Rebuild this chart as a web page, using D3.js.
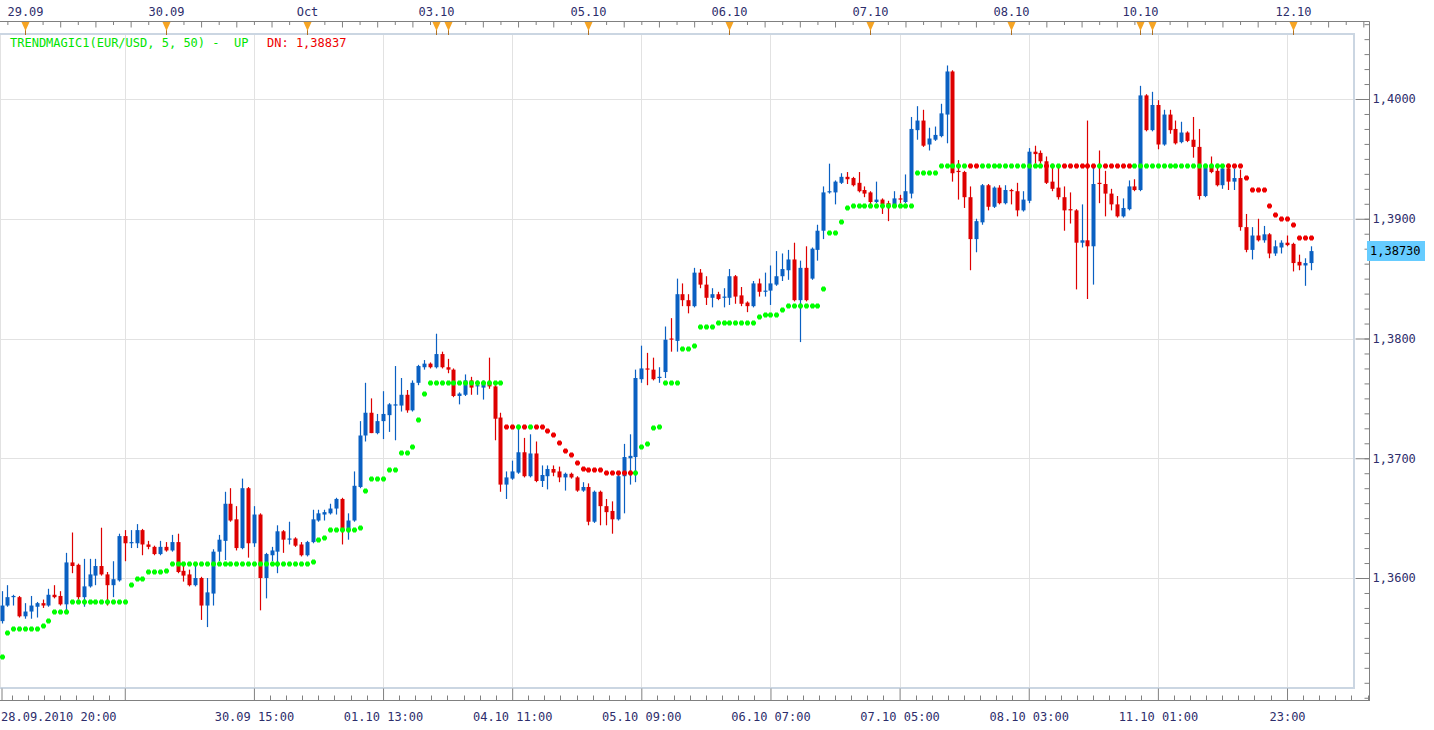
<!DOCTYPE html>
<html>
<head>
<meta charset="utf-8">
<script src="https://cdn.jsdelivr.net/npm/d3@7"></script>
<style>
  body { margin: 0; background: #fff; }
  svg { display: block; }
  text { font-family: "DejaVu Sans Mono", monospace; font-size: 12px; }
</style>
</head>
<body>
<svg id="chart" width="1434" height="730"></svg>
<script>
// hourly EUR/USD bars, 28.09.2010 20:00 .. 12.10.2010
var opens = [
  1.3564,1.3577,1.3584,1.3584,1.3568,1.3572,1.3576,1.3579,1.3577,1.3586,
  1.3585,1.3578,1.3613,1.3611,1.3584,1.3593,1.3602,1.3610,1.3603,1.3594,
  1.3598,1.3635,1.3629,1.3629,1.3640,1.3628,1.3626,1.3620,1.3626,1.3623,
  1.3630,1.3606,1.3603,1.3594,1.3600,1.3577,1.3587,1.3622,1.3631,1.3662,
  1.3649,1.3625,1.3675,1.3629,1.3653,1.3600,1.3619,1.3622,1.3639,1.3632,
  1.3633,1.3628,1.3619,1.3630,1.3648,1.3653,1.3654,1.3658,1.3666,1.3640,
  1.3648,1.3676,1.3719,1.3738,1.3721,1.3731,1.3736,1.3744,1.3744,1.3753,
  1.3740,1.3763,1.3776,1.3779,1.3776,1.3787,1.3776,1.3774,1.3752,1.3753,
  1.3765,1.3760,1.3759,1.3762,1.3760,1.3734,1.3678,1.3683,1.3688,1.3705,
  1.3685,1.3704,1.3681,1.3685,1.3691,1.3689,1.3684,1.3687,1.3684,1.3673,
  1.3676,1.3647,1.3672,1.3660,1.3656,1.3649,1.3685,1.3700,1.3701,1.3766,
  1.3775,1.3774,1.3767,1.3772,1.3800,1.3798,1.3837,1.3832,1.3827,1.3855,
  1.3845,1.3834,1.3837,1.3834,1.3834,1.3852,1.3836,1.3830,1.3827,1.3846,
  1.3839,1.3840,1.3845,1.3852,1.3857,1.3866,1.3832,1.3859,1.3850,1.3874,
  1.3890,1.3922,1.3922,1.3930,1.3935,1.3934,1.3930,1.3924,1.3922,1.3914,
  1.3916,1.3913,1.3910,1.3917,1.3914,1.3921,1.3974,1.3982,1.3962,1.3966,
  1.3969,1.3987,1.4023,1.3940,1.3939,1.3918,1.3883,1.3897,1.3928,1.3910,
  1.3926,1.3913,1.3924,1.3923,1.3907,1.3915,1.3956,1.3955,1.3948,1.3931,
  1.3926,1.3918,1.3908,1.3907,1.3880,1.3882,1.3877,1.3930,1.3929,1.3921,
  1.3912,1.3902,1.3908,1.3927,1.3924,1.4003,1.3974,1.3995,1.3962,1.3987,
  1.3975,1.3964,1.3972,1.3966,1.3960,1.3919,1.3945,1.3940,1.3928,1.3942,
  1.3931,1.3934,1.3893,1.3874,1.3886,1.3882,1.3887,1.3871,1.3876,1.3880,
  1.3879,1.3864,1.3861,1.3863
];
var highs = [
  1.3589,1.3594,1.3586,1.3585,1.3579,1.3585,1.3580,1.3582,1.3591,1.3594,
  1.3589,1.3621,1.3638,1.3612,1.3616,1.3616,1.3616,1.3642,1.3605,1.3614,
  1.3637,1.3640,1.3640,1.3645,1.3641,1.3631,1.3627,1.3631,1.3630,1.3636,
  1.3637,1.3610,1.3607,1.3610,1.3601,1.3600,1.3624,1.3636,1.3672,1.3675,
  1.3660,1.3683,1.3676,1.3660,1.3654,1.3621,1.3626,1.3644,1.3640,1.3647,
  1.3634,1.3630,1.3631,1.3657,1.3657,1.3657,1.3662,1.3667,1.3667,1.3654,
  1.3689,1.3731,1.3763,1.3750,1.3737,1.3756,1.3746,1.3777,1.3767,1.3757,
  1.3765,1.3778,1.3782,1.3780,1.3804,1.3789,1.3783,1.3775,1.3755,1.3770,
  1.3768,1.3765,1.3765,1.3784,1.3761,1.3738,1.3689,1.3698,1.3728,1.3717,
  1.3720,1.3714,1.3694,1.3694,1.3694,1.3693,1.3688,1.3688,1.3685,1.3680,
  1.3679,1.3673,1.3673,1.3666,1.3664,1.3686,1.3712,1.3720,1.3774,1.3794,
  1.3788,1.3784,1.3776,1.3810,1.3817,1.3850,1.3846,1.3837,1.3859,1.3858,
  1.3852,1.3842,1.3839,1.3842,1.3858,1.3853,1.3843,1.3831,1.3848,1.3850,
  1.3855,1.3861,1.3873,1.3871,1.3874,1.3880,1.3865,1.3877,1.3876,1.3895,
  1.3927,1.3946,1.3932,1.3938,1.3939,1.3935,1.3939,1.3927,1.3923,1.3931,
  1.3917,1.3915,1.3923,1.3920,1.3937,1.3985,1.3994,1.3991,1.3976,1.3977,
  1.3996,1.4028,1.4024,1.3949,1.3940,1.3927,1.3900,1.3929,1.3929,1.3927,
  1.3928,1.3928,1.3925,1.3930,1.3923,1.3959,1.3961,1.3957,1.3952,1.3946,
  1.3943,1.3927,1.3922,1.3908,1.3912,1.3982,1.3943,1.3957,1.3940,1.3925,
  1.3919,1.3917,1.3932,1.3933,1.4011,1.4004,1.4006,1.3999,1.3991,1.3991,
  1.3982,1.3981,1.3973,1.3985,1.3975,1.3946,1.3952,1.3946,1.3945,1.3946,
  1.3942,1.3941,1.3904,1.3893,1.3900,1.3894,1.3888,1.3882,1.3882,1.3886,
  1.3880,1.3870,1.3867,1.3877
];
var lows = [
  1.3562,1.3576,1.3577,1.3567,1.3566,1.3566,1.3567,1.3575,1.3576,1.3583,
  1.3577,1.3573,1.3604,1.3582,1.3576,1.3592,1.3594,1.3602,1.3577,1.3584,
  1.3597,1.3614,1.3625,1.3625,1.3619,1.3624,1.3619,1.3619,1.3622,1.3622,
  1.3604,1.3597,1.3593,1.3593,1.3565,1.3559,1.3577,1.3614,1.3615,1.3647,
  1.3623,1.3624,1.3617,1.3626,1.3573,1.3583,1.3614,1.3604,1.3621,1.3628,
  1.3626,1.3618,1.3618,1.3629,1.3647,1.3648,1.3653,1.3653,1.3628,1.3632,
  1.3647,1.3675,1.3714,1.3721,1.3720,1.3716,1.3722,1.3715,1.3739,1.3738,
  1.3739,1.3761,1.3774,1.3775,1.3775,1.3775,1.3771,1.3751,1.3745,1.3752,
  1.3753,1.3753,1.3749,1.3758,1.3715,1.3672,1.3666,1.3682,1.3687,1.3684,
  1.3684,1.3680,1.3676,1.3674,1.3685,1.3680,1.3673,1.3683,1.3672,1.3672,
  1.3644,1.3646,1.3644,1.3644,1.3637,1.3648,1.3654,1.3678,1.3680,1.3763,
  1.3761,1.3765,1.3763,1.3767,1.3789,1.3789,1.3827,1.3821,1.3826,1.3842,
  1.3828,1.3826,1.3832,1.3826,1.3828,1.3829,1.3827,1.3822,1.3826,1.3835,
  1.3835,1.3828,1.3844,1.3848,1.3849,1.3831,1.3797,1.3831,1.3849,1.3865,
  1.3883,1.3921,1.3912,1.3929,1.3929,1.3927,1.3922,1.3918,1.3912,1.3913,
  1.3904,1.3898,1.3909,1.3913,1.3913,1.3917,1.3966,1.3960,1.3957,1.3965,
  1.3968,1.3963,1.3931,1.3916,1.3909,1.3857,1.3872,1.3895,1.3907,1.3909,
  1.3912,1.3912,1.3912,1.3902,1.3906,1.3913,1.3946,1.3946,1.3929,1.3923,
  1.3916,1.3890,1.3896,1.3841,1.3876,1.3833,1.3845,1.3913,1.3902,1.3907,
  1.3901,1.3901,1.3907,1.3923,1.3923,1.3973,1.3973,1.3958,1.3961,1.3971,
  1.3962,1.3963,1.3964,1.3951,1.3916,1.3918,1.3938,1.3927,1.3925,1.3924,
  1.3924,1.3890,1.3872,1.3866,1.3881,1.3880,1.3867,1.3869,1.3871,1.3877,
  1.3856,1.3857,1.3844,1.3857
];
var closes = [
  1.3577,1.3584,1.3585,1.3568,1.3572,1.3577,1.3579,1.3577,1.3586,1.3584,
  1.3578,1.3613,1.3610,1.3584,1.3593,1.3603,1.3610,1.3603,1.3594,1.3599,
  1.3635,1.3629,1.3630,1.3640,1.3628,1.3626,1.3620,1.3626,1.3623,1.3630,
  1.3605,1.3602,1.3594,1.3600,1.3577,1.3588,1.3622,1.3632,1.3662,1.3648,
  1.3625,1.3675,1.3629,1.3653,1.3600,1.3620,1.3623,1.3639,1.3632,1.3633,
  1.3627,1.3619,1.3630,1.3649,1.3654,1.3655,1.3658,1.3666,1.3640,1.3648,
  1.3677,1.3719,1.3738,1.3721,1.3731,1.3737,1.3745,1.3745,1.3753,1.3740,
  1.3763,1.3777,1.3779,1.3776,1.3787,1.3776,1.3774,1.3752,1.3754,1.3765,
  1.3759,1.3761,1.3762,1.3760,1.3733,1.3678,1.3684,1.3689,1.3705,1.3685,
  1.3704,1.3681,1.3686,1.3691,1.3688,1.3684,1.3687,1.3684,1.3673,1.3676,
  1.3647,1.3672,1.3660,1.3655,1.3649,1.3685,1.3701,1.3702,1.3767,1.3775,
  1.3774,1.3766,1.3768,1.3799,1.3799,1.3837,1.3832,1.3827,1.3855,1.3845,
  1.3834,1.3837,1.3833,1.3835,1.3852,1.3835,1.3829,1.3827,1.3846,1.3839,
  1.3840,1.3846,1.3852,1.3858,1.3866,1.3832,1.3859,1.3832,1.3875,1.3890,
  1.3922,1.3923,1.3931,1.3935,1.3933,1.3928,1.3923,1.3921,1.3914,1.3916,
  1.3912,1.3910,1.3917,1.3916,1.3923,1.3975,1.3982,1.3961,1.3967,1.3970,
  1.3988,1.4023,1.3938,1.3939,1.3918,1.3883,1.3898,1.3928,1.3910,1.3926,
  1.3913,1.3924,1.3923,1.3907,1.3916,1.3956,1.3954,1.3948,1.3930,1.3925,
  1.3918,1.3907,1.3907,1.3880,1.3882,1.3877,1.3929,1.3929,1.3921,1.3912,
  1.3902,1.3909,1.3927,1.3924,1.4003,1.3974,1.3995,1.3962,1.3987,1.3974,
  1.3963,1.3972,1.3965,1.3960,1.3919,1.3945,1.3939,1.3928,1.3942,1.3931,
  1.3934,1.3893,1.3874,1.3886,1.3882,1.3887,1.3871,1.3877,1.3880,1.3878,
  1.3863,1.3861,1.3863,1.3873
];
// Trend Magic line, one value per bar, U = up buffer (green), D = down buffer (red)
var trendMagic = [
  1.3534,1.3554,1.3557,1.3557,1.3557,1.3557,1.3557,1.3560,1.3564,1.3572,
  1.3572,1.3572,1.3580,1.3580,1.3580,1.3580,1.3580,1.3580,1.3580,1.3580,
  1.3580,1.3580,1.3594,1.3599,1.3599,1.3605,1.3605,1.3605,1.3606,1.3612,
  1.3612,1.3612,1.3612,1.3612,1.3612,1.3612,1.3612,1.3612,1.3612,1.3612,
  1.3612,1.3612,1.3612,1.3612,1.3612,1.3612,1.3612,1.3612,1.3612,1.3612,
  1.3612,1.3612,1.3612,1.3613,1.3632,1.3633,1.3640,1.3640,1.3640,1.3640,
  1.3640,1.3642,1.3673,1.3683,1.3683,1.3683,1.3690,1.3690,1.3704,1.3704,
  1.3709,1.3732,1.3754,1.3763,1.3763,1.3763,1.3763,1.3763,1.3763,1.3763,
  1.3763,1.3763,1.3763,1.3763,1.3763,1.3763,1.3726,1.3726,1.3726,1.3726,
  1.3726,1.3726,1.3726,1.3723,1.3719,1.3713,1.3706,1.3703,1.3696,1.3691,
  1.3690,1.3690,1.3690,1.3688,1.3688,1.3688,1.3688,1.3688,1.3688,1.3709,
  1.3712,1.3725,1.3726,1.3763,1.3763,1.3763,1.3791,1.3791,1.3794,1.3810,
  1.3810,1.3810,1.3813,1.3813,1.3813,1.3813,1.3813,1.3813,1.3813,1.3818,
  1.3820,1.3820,1.3820,1.3824,1.3827,1.3827,1.3827,1.3827,1.3827,1.3827,
  1.3841,1.3888,1.3888,1.3897,1.3909,1.3911,1.3911,1.3911,1.3911,1.3911,
  1.3911,1.3911,1.3911,1.3911,1.3911,1.3911,1.3938,1.3938,1.3938,1.3938,
  1.3944,1.3944,1.3944,1.3944,1.3944,1.3944,1.3944,1.3944,1.3944,1.3944,
  1.3944,1.3944,1.3944,1.3944,1.3944,1.3944,1.3944,1.3944,1.3944,1.3944,
  1.3944,1.3944,1.3944,1.3944,1.3944,1.3944,1.3944,1.3944,1.3944,1.3944,
  1.3944,1.3944,1.3944,1.3944,1.3944,1.3944,1.3944,1.3944,1.3944,1.3944,
  1.3944,1.3944,1.3944,1.3944,1.3944,1.3944,1.3944,1.3944,1.3944,1.3944,
  1.3944,1.3944,1.3934,1.3924,1.3924,1.3924,1.3911,1.3903,1.3900,1.3900,
  1.3895,1.38837,1.38837,1.38837
];
var trendSide = [
  "UUUUUUUUUU","UUUUUUUUUU","UUUUUUUUUU","UUUUUUUUUU","UUUUUUUUUU",
  "UUUUUUUUUU","UUUUUUUUUU","UUUUUUUUUU","UUUUUUDDUD","UDDDDDDDDD",
  "DDDDDDDDUU","UUUUUUUUUU","UUUUUUUUUU","UUUUUUUUUU","UUUUUUUUUU",
  "UUUUUUUUUU","UUUUUDDUUU","UUUUUUUUDU","UDDDDDDUDD","DDDUUUUUUU",
  "UUUUUUUUUD","DDDDDDDDDD","DDDD"
].join("");

// axis content
var priceTicks = [1.36, 1.37, 1.38, 1.39, 1.40];
var gridBars = [21, 43, 65, 87, 109, 131, 153, 175, 197, 219];
var gridLabels = ["", "30.09 15:00", "01.10 13:00", "04.10 11:00", "05.10 09:00",
                  "06.10 07:00", "07.10 05:00", "08.10 03:00", "11.10 01:00", "23:00"];
var firstLabel = "28.09.2010 20:00";
var dayBars = [4, 28, 52, 74, 76, 100, 124, 148, 172, 194, 196, 220];
var dayLabels = ["29.09", "30.09", "Oct", "03.10", "", "05.10", "06.10", "07.10", "08.10", "10.10", "", "12.10"];
var lastPrice = 1.3873;
var legendUp = "TRENDMAGIC1(EUR/USD, 5, 50) -  UP";
var legendDn = "DN: 1,38837";

var bars = opens.map(function(o, i) {
  return {i: i, open: o, high: highs[i], low: lows[i], close: closes[i], tm: trendMagic[i], side: trendSide[i]};
});

var svg = d3.select("#chart");
var frame = {left: 0, right: 1354, top: 34, bottom: 688};
var axisX = 1369.5, topAxisY = 21.5, bottomAxisY = 700.5;

var x = d3.scaleLinear().domain([0, bars.length - 1]).range([1.5, 1310.5]);
var y = d3.scaleLinear().domain([1.36, 1.40]).range([578, 99]);

var navy = "#2d2d6b";
var upColor = "#0a60c2", dnColor = "#de0000";
var priceFmt = function(d) { return d3.format(".4f")(d).replace(".", ","); };

// grid
var grid = svg.append("g");
grid.selectAll("line.h")
  .data(priceTicks)
  .join("line")
  .attr("class", "h")
  .attr("x1", frame.left).attr("x2", frame.right)
  .attr("y1", d => Math.round(y(d)) + 0.5).attr("y2", d => Math.round(y(d)) + 0.5)
  .attr("stroke", "#e2e2e2");
grid.selectAll("line.v")
  .data([0].concat(gridBars))
  .join("line")
  .attr("class", "v")
  .attr("x1", d => d === 0 ? 0.5 : Math.round(x(d)) + 0.5)
  .attr("x2", d => d === 0 ? 0.5 : Math.round(x(d)) + 0.5)
  .attr("y1", frame.top).attr("y2", frame.bottom)
  .attr("stroke", "#e2e2e2");

// panel frame
svg.append("rect")
  .attr("x", -2).attr("y", frame.top)
  .attr("width", frame.right + 2).attr("height", frame.bottom - frame.top)
  .attr("fill", "none")
  .attr("stroke", "#cbd6e2")
  .attr("stroke-width", 2);

// candles
var candles = svg.append("g").selectAll("g")
  .data(bars)
  .join("g")
  .attr("fill", d => d.close >= d.open ? upColor : dnColor)
  .attr("stroke", d => d.close >= d.open ? upColor : dnColor);

candles.append("line")
  .attr("x1", d => Math.round(x(d.i)) + 0.5)
  .attr("x2", d => Math.round(x(d.i)) + 0.5)
  .attr("y1", d => y(d.high))
  .attr("y2", d => y(d.low))
  .attr("stroke-width", 1.2);

candles.append("rect")
  .attr("x", d => Math.round(x(d.i)) - 1.5)
  .attr("width", 4)
  .attr("y", d => y(Math.max(d.open, d.close)))
  .attr("height", d => Math.max(1.2, Math.abs(y(d.open) - y(d.close))))
  .attr("stroke", "none");

// trend magic dots: small chunky plus marks
var dotShape = "M-1.5,-2.5h3v1h1v3h-1v1h-3v-1h-1v-3h1z";
svg.append("g").selectAll("path")
  .data(bars)
  .join("path")
  .attr("d", dotShape)
  .attr("transform", d => `translate(${Math.round(x(d.i)) + 0.5},${Math.round(y(d.tm))})`)
  .attr("fill", d => d.side === "U" ? "#00ff00" : "#ee0000");

// legend
var legend = svg.append("text")
  .attr("x", 10).attr("y", 47)
  .style("white-space", "pre");
legend.append("tspan").attr("fill", "#00e400").text(legendUp);
legend.append("tspan").attr("x", 267).attr("fill", "#ee0000").text(legendDn);

// right price axis
var minorPrices = d3.range(1.35, 1.4075, 0.00125);
svg.append("g")
  .attr("transform", `translate(${axisX},0)`)
  .call(d3.axisRight(y).tickValues(minorPrices).tickSize(-5).tickFormat(""))
  .call(g => g.select(".domain").remove())
  .call(g => g.selectAll("line").attr("stroke", "#808080"));

svg.append("g")
  .attr("transform", `translate(${axisX},0)`)
  .call(d3.axisRight(y).tickValues(priceTicks).tickSize(-14).tickPadding(3).tickFormat(priceFmt))
  .call(g => g.select(".domain").remove())
  .call(g => g.selectAll("line").attr("stroke", "#808080"))
  .call(g => g.selectAll("text")
    .attr("fill", navy)
    .style("font-family", '"DejaVu Sans Mono", monospace')
    .style("font-size", "12px"));

svg.append("line")
  .attr("x1", axisX).attr("x2", axisX)
  .attr("y1", topAxisY).attr("y2", bottomAxisY + 0.5)
  .attr("stroke", "#808080");

// last price box
svg.append("rect")
  .attr("x", 1367).attr("y", Math.round(y(lastPrice)) - 10)
  .attr("width", 58).attr("height", 20)
  .attr("fill", "#66ccff");
svg.append("text")
  .attr("x", 1370).attr("y", y(lastPrice))
  .attr("dy", "0.35em")
  .attr("fill", "#000")
  .text(d3.format(".5f")(lastPrice).replace(".", ","));

// top date axis
var topTicks = d3.range(1, 233, 3);
svg.append("g")
  .attr("transform", `translate(0,${topAxisY})`)
  .call(d3.axisTop(x).tickValues(topTicks).tickSize(-3.5).tickFormat(""))
  .call(g => g.select(".domain").remove())
  .call(g => g.selectAll(".tick line")
    .attr("stroke", "#808080")
    .attr("y2", d => (d - 4) % 6 === 0 ? 6 : 3.5));

svg.append("line")
  .attr("x1", 0).attr("x2", axisX)
  .attr("y1", topAxisY).attr("y2", topAxisY)
  .attr("stroke", "#808080");

var days = svg.append("g").selectAll("g")
  .data(dayBars.map((b, k) => ({bar: b, label: dayLabels[k]})))
  .join("g")
  .attr("transform", d => `translate(${Math.round(x(d.bar)) + 0.5},0)`);
days.append("line")
  .attr("y1", 28).attr("y2", 35)
  .attr("stroke", "#b07020");
days.append("path")
  .attr("d", "M-4,22L4,22L0,31Z")
  .attr("fill", "#f6a423");
days.append("text")
  .attr("y", 15.5)
  .attr("text-anchor", "middle")
  .attr("fill", navy)
  .text(d => d.label);

// bottom time axis
var minorBottom = [];
gridBars.forEach(function(b, k) {
  var px = x(b);
  var dir = k === 0 ? -1 : 1;
  for (var j = 1; j <= 7; j++) {
    var t = px + dir * 16.1 * j;
    if (t < axisX - 1) minorBottom.push(t);
  }
});

var bottom = svg.append("g").attr("transform", `translate(0,${bottomAxisY})`);
bottom.call(d3.axisBottom(x).tickValues([0].concat(gridBars)).tickSize(-12).tickPadding(12).tickFormat((d, k) => k === 0 ? firstLabel : gridLabels[k - 1]))
  .call(g => g.select(".domain").remove())
  .call(g => g.selectAll("line").attr("stroke", "#808080"))
  .call(g => g.selectAll("text")
    .attr("fill", navy)
    .style("font-family", '"DejaVu Sans Mono", monospace')
    .style("font-size", "12px"))
  .call(g => g.selectAll(".tick").filter(d => d === 0).select("text").attr("text-anchor", "start").attr("x", -1));

bottom.selectAll("line.minor")
  .data(minorBottom)
  .join("line")
  .attr("class", "minor")
  .attr("x1", d => Math.round(d) + 0.5).attr("x2", d => Math.round(d) + 0.5)
  .attr("y1", 0).attr("y2", -5)
  .attr("stroke", "#808080");

svg.append("line")
  .attr("x1", 0).attr("x2", axisX)
  .attr("y1", bottomAxisY).attr("y2", bottomAxisY)
  .attr("stroke", "#808080");
</script>
</body>
</html>
